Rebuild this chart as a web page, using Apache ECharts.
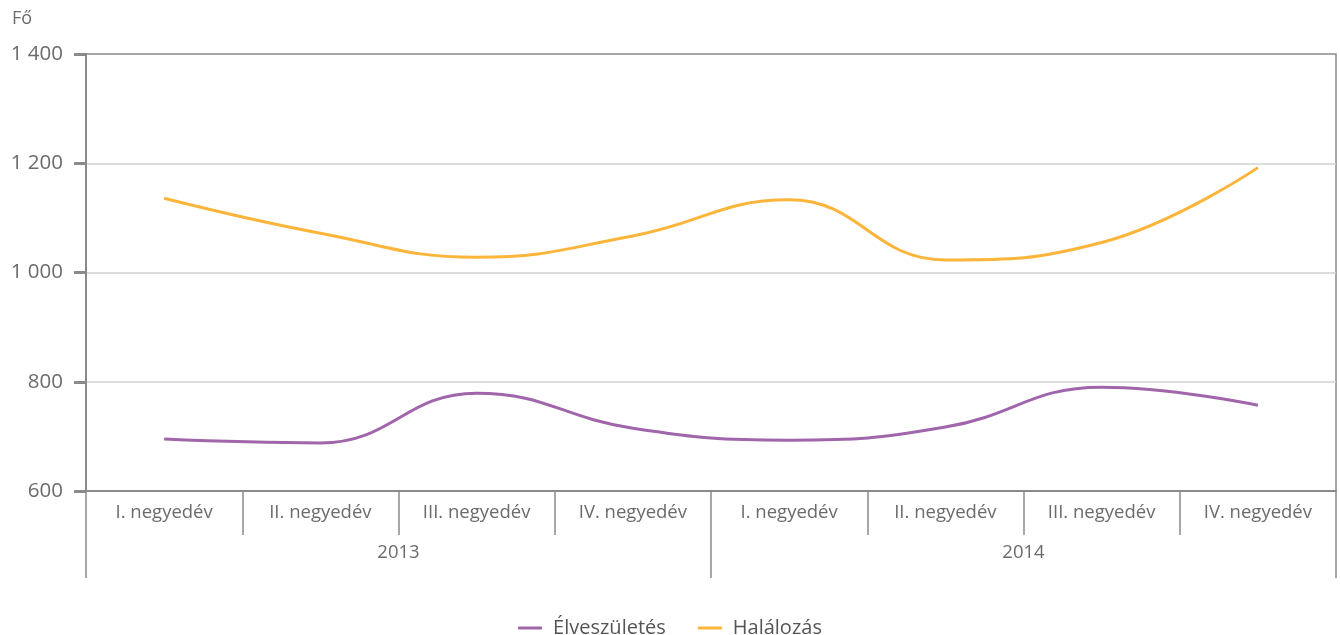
<!DOCTYPE html>
<html>
<head>
<meta charset="utf-8">
<script src="https://cdn.jsdelivr.net/npm/echarts@6/dist/echarts.min.js"></script>
<style>
  html, body { margin: 0; padding: 0; background: #fff; }
  #chart { width: 1340px; height: 635px; }
</style>
</head>
<body>
<div id="chart"></div>
<script>
// Quarterly births and deaths, 2013–2014
const quarters = ['I. negyedév', 'II. negyedév', 'III. negyedév', 'IV. negyedév',
                  'I. negyedév', 'II. negyedév', 'III. negyedév', 'IV. negyedév'];
const years = ['2013', '2014'];
const births = [695, 688, 779, 715, 693, 717, 790, 757];      // Élveszületés
const deaths = [1136, 1072, 1028, 1067, 1133, 1023, 1055, 1192]; // Halálozás
const yTicks = { min: 600, max: 1400, interval: 200 };

const FONT = 'Open Sans';
const AXIS = '#8a8a8a';
const TEXT = '#6b6b6b';

const chart = echarts.init(document.getElementById('chart'));
chart.setOption({
  animation: false,
  textStyle: { fontFamily: FONT },
  title: {
    text: 'Fő', left: 7, top: 5,
    textStyle: { fontFamily: FONT, fontSize: 18, fontWeight: 'normal', color: TEXT }
  },
  grid: {
    left: 86, right: 4, top: 54, bottom: 144,
    show: true, borderColor: AXIS, borderWidth: 1.5, backgroundColor: 'transparent'
  },
  legend: {
    bottom: -8, left: 'center', itemGap: 32,
    itemWidth: 24, itemHeight: 3, icon: 'rect',
    textStyle: { fontFamily: FONT, fontSize: 20, color: '#555', padding: [0, 0, 0, 6] },
    data: ['Élveszületés', 'Halálozás']
  },
  xAxis: [
    {
      type: 'category', data: quarters, boundaryGap: true, position: 'bottom',
      axisLine: { lineStyle: { color: AXIS, width: 2 } },
      axisTick: { show: true, interval: 0, length: 44, lineStyle: { color: AXIS, width: 1.5 } },
      axisLabel: { interval: 0, margin: 12, fontSize: 18.5, color: TEXT, fontFamily: FONT }
    },
    {
      type: 'category', data: years, boundaryGap: true, position: 'bottom',
      axisLine: { show: false },
      axisTick: { show: true, interval: 0, length: 87, lineStyle: { color: AXIS, width: 1.5 } },
      axisLabel: { interval: 0, margin: 52, fontSize: 18.5, color: TEXT, fontFamily: FONT }
    }
  ],
  yAxis: {
    type: 'value', min: yTicks.min, max: yTicks.max, interval: yTicks.interval,
    axisLine: { show: true, lineStyle: { color: AXIS, width: 2 } },
    axisTick: { show: true, length: 12, lineStyle: { color: AXIS, width: 3 } },
    axisLabel: {
      margin: 23, fontSize: 20.5, color: TEXT, fontFamily: FONT,
      formatter: v => String(v).replace(/\B(?=(\d{3})+(?!\d))/g, ' ')
    },
    splitLine: { show: true, showMinLine: false, showMaxLine: false,
                 lineStyle: { color: '#d2d2d2', width: 1.5 } }
  },
  series: [
    {
      name: 'Élveszületés', type: 'line', data: births, smooth: 0.45,
      showSymbol: false, symbol: 'none', xAxisIndex: 0,
      lineStyle: { color: '#a065aa', width: 3 }, itemStyle: { color: '#a065aa' }
    },
    {
      name: 'Halálozás', type: 'line', data: deaths, smooth: 0.45,
      showSymbol: false, symbol: 'none', xAxisIndex: 0,
      lineStyle: { color: '#fbb53a', width: 3 }, itemStyle: { color: '#fbb53a' }
    }
  ]
});
</script>
</body>
</html>
